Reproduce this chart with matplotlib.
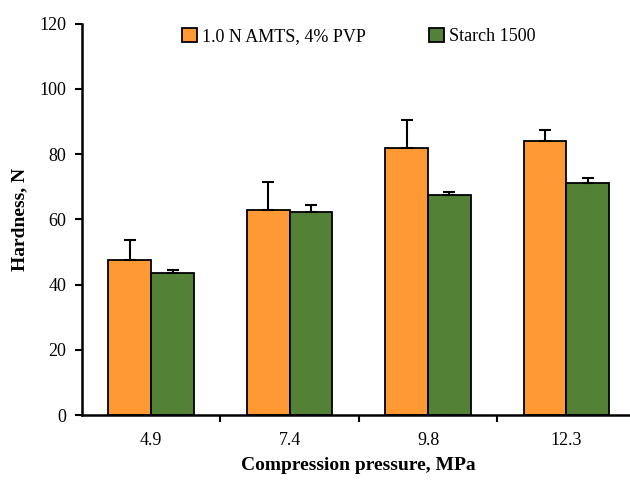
import matplotlib.pyplot as plt
import numpy as np

# Data
pressures = ['4.9', '7.4', '9.8', '12.3']
amts_pvp = [47.5, 62.8, 82.0, 84.1]
amts_pvp_err = [6.2, 8.6, 8.4, 3.2]
starch = [43.7, 62.3, 67.6, 71.0]
starch_err = [0.7, 2.1, 0.9, 1.8]

plt.rcParams['font.family'] = ['Liberation Serif', 'DejaVu Serif']

fig = plt.figure(figsize=(6.3, 4.8), dpi=100)
ax = fig.add_axes([0.130, 0.135, 0.879, 0.816])

x = np.arange(len(pressures))
w = 0.31
err_kw = dict(ecolor='black', elinewidth=1.5, capsize=4, capthick=1.5)
ax.bar(x - w / 2, amts_pvp, w, yerr=[np.zeros(4), amts_pvp_err], color='#FF9933',
       edgecolor='black', linewidth=1.3, error_kw=err_kw, label='1.0 N AMTS, 4% PVP')
ax.bar(x + w / 2, starch, w, yerr=[np.zeros(4), starch_err], color='#538135',
       edgecolor='black', linewidth=1.3, error_kw=err_kw, label='Starch 1500')

ax.set_xlim(-0.5, 3.5)
ax.set_ylim(0, 120)
ax.set_yticks(range(0, 121, 20))
ax.set_xticks(x)
ax.set_xticklabels(pressures)
ax.set_xticks(np.arange(0.5, 3.5, 1), minor=True)
ax.tick_params(axis='x', which='major', length=0, pad=12, labelsize=13)
ax.tick_params(axis='x', which='minor', length=5, width=1.5, direction='out')
ax.tick_params(axis='y', length=5, width=1.5, direction='out', labelsize=13, pad=6)

for s in ['top', 'right']:
    ax.spines[s].set_visible(False)
for s in ['left', 'bottom']:
    ax.spines[s].set_linewidth(1.8)

ax.set_xlabel('Compression pressure, MPa', fontsize=14, fontweight='bold', labelpad=6)
ax.set_ylabel('Hardness, N', fontsize=14, fontweight='bold', labelpad=8)

ax.legend(loc='upper center', bbox_to_anchor=(0.5, 1.03), ncol=2, frameon=False,
          fontsize=13, handlelength=0.8, handleheight=0.8, handletextpad=0.3,
          columnspacing=3.5)

fig.savefig('out.png', dpi=100)
